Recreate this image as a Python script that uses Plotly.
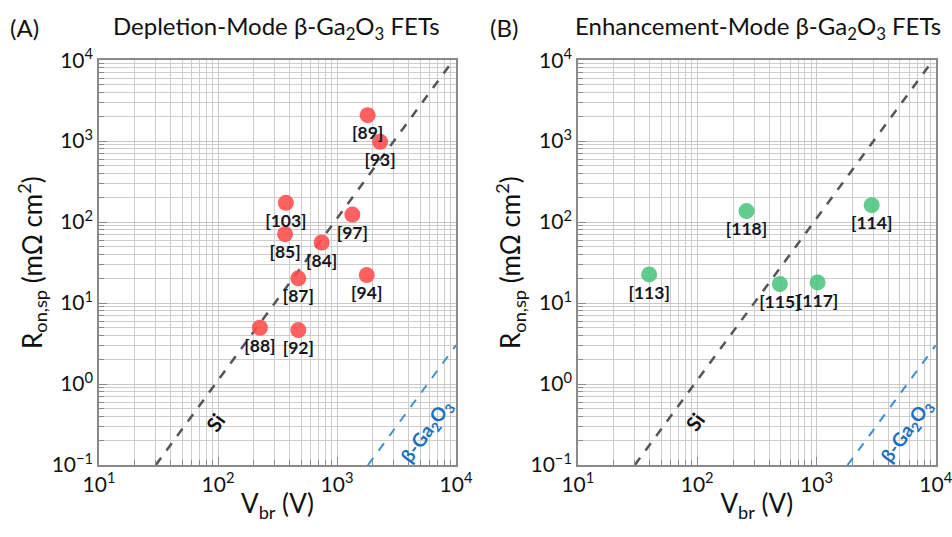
import numpy as np
import plotly.graph_objects as go

# ---- data ----
dep_labels = ["[89]", "[93]", "[103]", "[97]", "[85]", "[84]", "[87]", "[94]", "[88]", "[92]"]
dep_vbr = [1810, 2300, 372, 1346, 366, 743, 473, 1778, 225, 473]
dep_ron = [2090, 980, 173, 124, 71, 56, 20.2, 22.2, 4.96, 4.64]

enh_labels = ["[118]", "[114]", "[113]", "[115]", "[117]"]
enh_vbr = [259, 2900, 39.6, 493, 1021]
enh_ron = [137, 162, 22.6, 17.2, 18.0]

si_v = [30, 9487]
si_r = [0.1, 1e4]
ga_v = [1820, 10000]
ga_r = [0.1, 3.02]

x_tickvals = [10, 100, 1000, 10000]
x_ticktext = ["10<sup>1</sup>", "10<sup>2</sup>", "10<sup>3</sup>", "10<sup>4</sup>"]
y_tickvals = [0.1, 1, 10, 100, 1000, 10000]
y_ticktext = ["10<sup>\u22121</sup>", "10<sup>0</sup>", "10<sup>1</sup>",
              "10<sup>2</sup>", "10<sup>3</sup>", "10<sup>4</sup>"]

FONT = "Lato"
RED = "rgba(255,75,75,0.88)"
GREEN = "rgba(70,195,120,0.85)"
SI_COLOR = "#555555"
GA_COLOR = "#3d8fd1"

fig = go.Figure()

panels = [
    ("x", "y", dep_vbr, dep_ron, dep_labels, RED),
    ("x2", "y2", enh_vbr, enh_ron, enh_labels, GREEN),
]
for xa, ya, vx, vy, lab, col in panels:
    fig.add_trace(go.Scatter(x=si_v, y=si_r, mode="lines", xaxis=xa, yaxis=ya,
                             line=dict(color=SI_COLOR, width=2.5, dash="dash"),
                             showlegend=False, hoverinfo="skip"))
    fig.add_trace(go.Scatter(x=ga_v, y=ga_r, mode="lines", xaxis=xa, yaxis=ya,
                             line=dict(color=GA_COLOR, width=2, dash="dash"),
                             showlegend=False, hoverinfo="skip"))
    fig.add_trace(go.Scatter(x=vx, y=vy, mode="markers+text", xaxis=xa, yaxis=ya,
                             text=lab, textposition="bottom center",
                             textfont=dict(family=FONT, size=17.5, color="#151520"),
                             texttemplate="<b>%{text}</b>",
                             marker=dict(color=col, size=16, line=dict(width=0)),
                             showlegend=False))

axis_common = dict(
    type="log", showline=True, linecolor="#8a8a8a", linewidth=1.5, mirror=True,
    showgrid=True, gridcolor="#c8c8c8", gridwidth=1,
    ticks="inside", ticklen=8, tickcolor="#8a8a8a",
    tickmode="array", zeroline=False, automargin=False,
    ticklabeloverflow="allow",
    tickfont=dict(family=FONT, size=21, color="#111"),
    minor=dict(dtick="D1", showgrid=True, gridcolor="#cdcdcd", gridwidth=1,
               ticks="inside", ticklen=5, tickcolor="#8a8a8a"),
)

ydom = [0.134, 0.888]
xt = dict(text="V<sub>br</sub> (V)", font=dict(size=26, family=FONT), standoff=0)
yt = dict(text="R<sub>on,sp</sub> (m\u03a9 cm<sup>2</sup>)", font=dict(size=26, family=FONT), standoff=2)
fig.update_layout(
    width=952, height=537,
    margin=dict(l=0, r=0, t=0, b=0),
    paper_bgcolor="white", plot_bgcolor="white",
    font=dict(family=FONT, color="#111"),
    xaxis=dict(axis_common, domain=[0.104, 0.479], range=[1, 4],
               tickvals=x_tickvals, ticktext=x_ticktext, title=xt, anchor="y"),
    yaxis=dict(axis_common, domain=ydom, range=[-1, 4],
               tickvals=y_tickvals, ticktext=y_ticktext, title=yt, anchor="x"),
    xaxis2=dict(axis_common, domain=[0.607, 0.983], range=[1, 4],
                tickvals=x_tickvals, ticktext=x_ticktext, title=xt, anchor="y2"),
    yaxis2=dict(axis_common, domain=ydom, range=[-1, 4],
                tickvals=y_tickvals, ticktext=y_ticktext, title=yt, anchor="x2"),
)

ann = []
for xr, yr in (("x", "y"), ("x2", "y2")):
    ann.append(dict(x=np.log10(95), y=np.log10(0.34), xref=xr, yref=yr, text="<b>Si</b>",
                    showarrow=False, textangle=-54,
                    font=dict(family=FONT, size=20, color="#111")))
    ann.append(dict(x=np.log10(5750), y=np.log10(0.26), xref=xr, yref=yr,
                    text="<b>\u03b2-Ga<sub>2</sub>O<sub>3</sub></b>",
                    showarrow=False, textangle=-54,
                    font=dict(family=FONT, size=19, color="#1a6fc0")))

# panel titles
ann.append(dict(x=8 / 952, y=1 - 28 / 537, xref="paper", yref="paper", text="(A)",
                xanchor="left", yanchor="middle", showarrow=False,
                font=dict(family=FONT, size=24, color="#111")))
ann.append(dict(x=276 / 952, y=1 - 28 / 537, xref="paper", yref="paper",
                text="Depletion-Mode \u03b2-Ga<sub>2</sub>O<sub>3</sub> FETs",
                xanchor="center", yanchor="middle", showarrow=False,
                font=dict(family=FONT, size=24, color="#111")))
ann.append(dict(x=488 / 952, y=1 - 28 / 537, xref="paper", yref="paper", text="(B)",
                xanchor="left", yanchor="middle", showarrow=False,
                font=dict(family=FONT, size=24, color="#111")))
ann.append(dict(x=758 / 952, y=1 - 28 / 537, xref="paper", yref="paper",
                text="Enhancement-Mode \u03b2-Ga<sub>2</sub>O<sub>3</sub> FETs",
                xanchor="center", yanchor="middle", showarrow=False,
                font=dict(family=FONT, size=24, color="#111")))
fig.update_layout(annotations=ann)

fig.write_html("out.html", post_script="document.body.style.margin='0';",
               config={"displayModeBar": False})
